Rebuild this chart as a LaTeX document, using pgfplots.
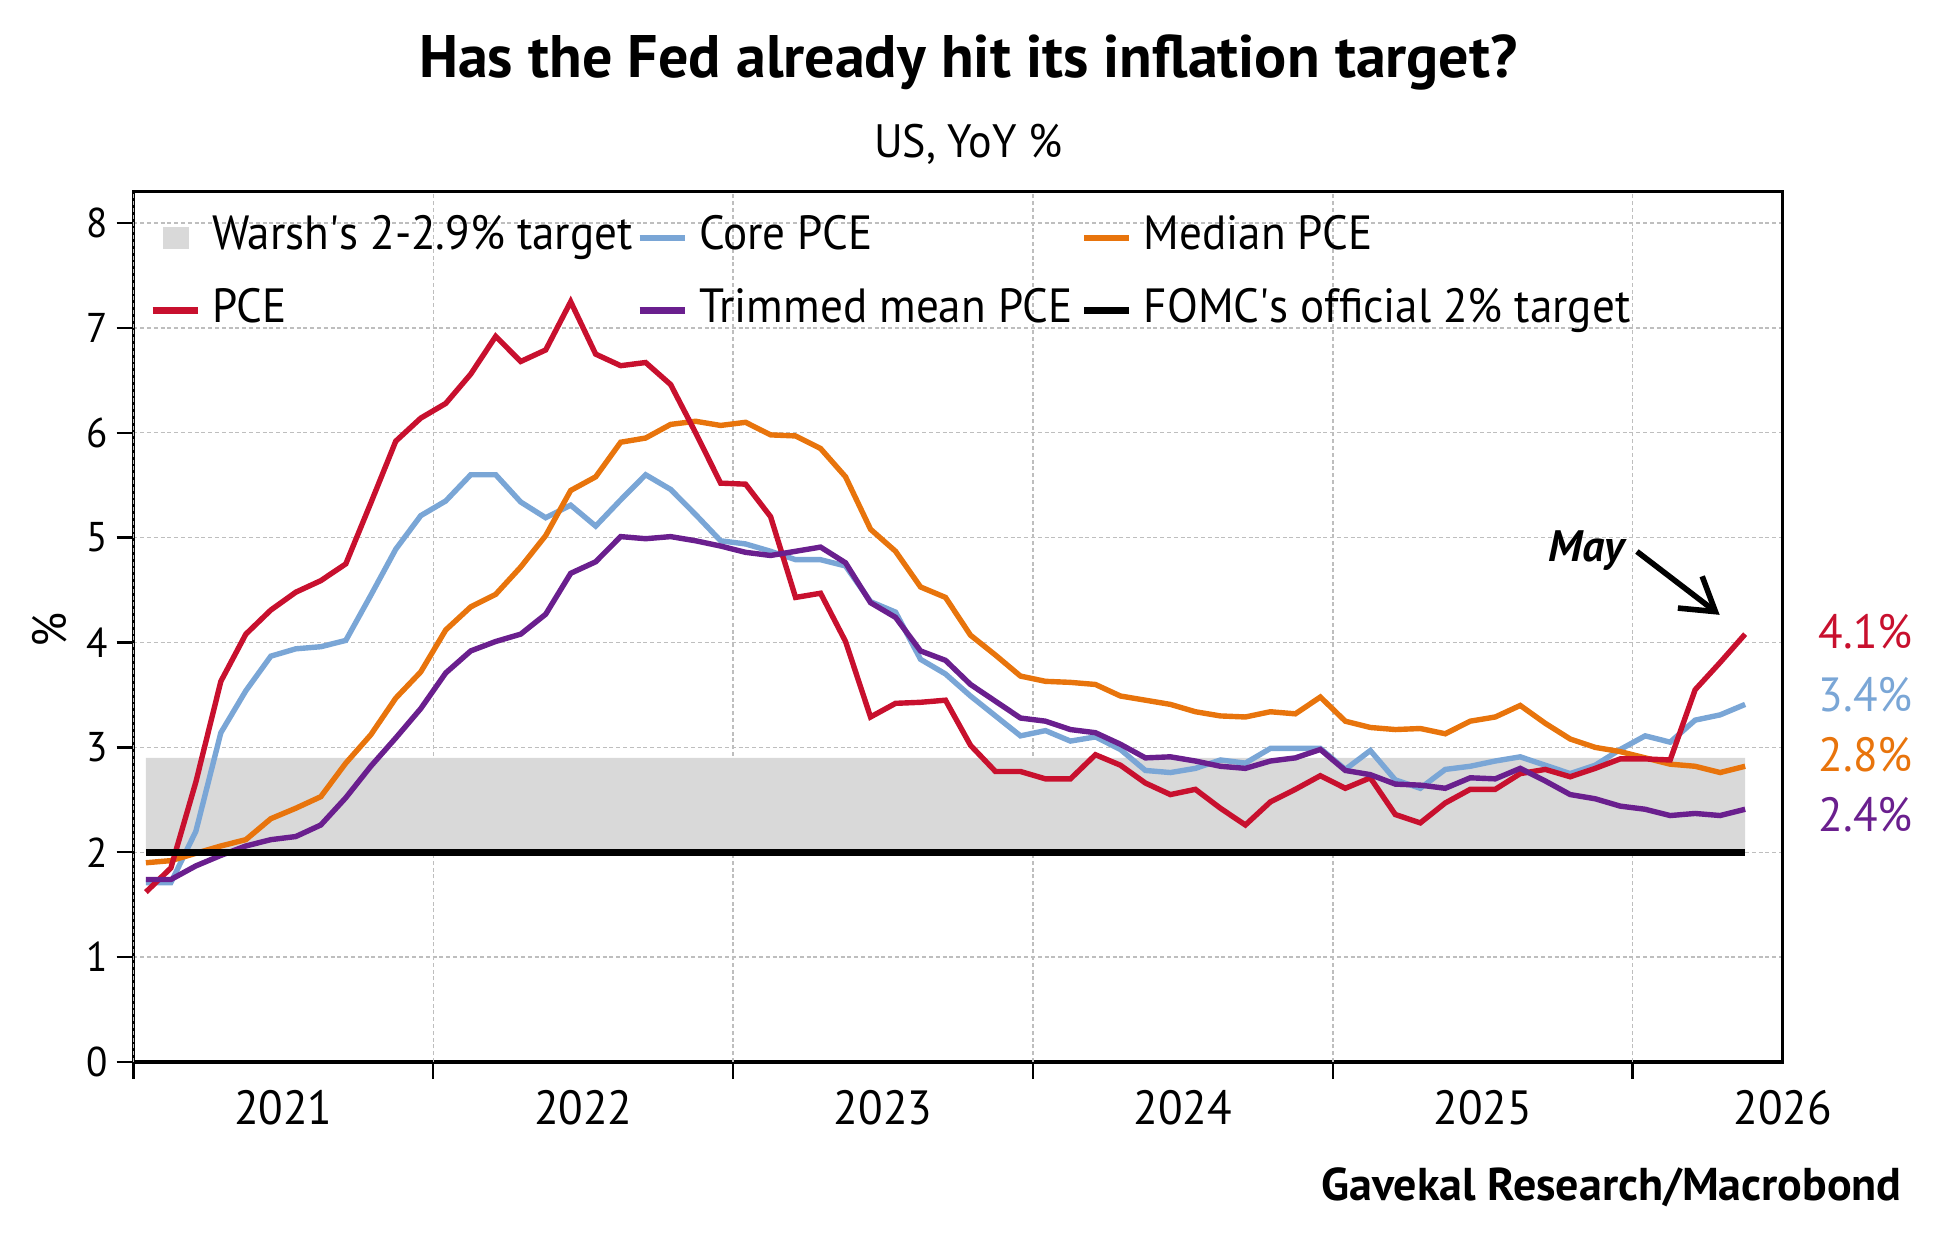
\documentclass[border=0pt]{standalone}
\usepackage{pgfplots}
\pgfplotsset{compat=1.18}
\usetikzlibrary{arrows.meta}
\usepackage{fontspec}
\setmainfont{PT Sans}[FakeStretch=0.94]
\newfontfamily\titlefont{PT Sans}

\definecolor{pcered}{RGB}{200,16,46}
\definecolor{coreblue}{RGB}{122,166,214}
\definecolor{medorange}{RGB}{232,116,12}
\definecolor{trimpurple}{RGB}{106,31,142}
\definecolor{bandgray}{RGB}{217,217,217}
\definecolor{gridgray}{RGB}{190,190,190}

% Monthly YoY rates, month 0 = Jan 2021
\pgfplotstableread{
m   pce   core  median trim
0   1.62  1.71  1.90  1.74
1   1.85  1.71  1.92  1.74
2   2.67  2.20  1.99  1.87
3   3.63  3.14  2.06  1.97
4   4.08  3.54  2.12  2.06
5   4.31  3.87  2.32  2.12
6   4.48  3.94  2.42  2.15
7   4.59  3.96  2.53  2.26
8   4.75  4.02  2.85  2.52
9   5.33  4.45  3.12  2.82
10  5.92  4.89  3.47  3.09
11  6.14  5.21  3.72  3.37
12  6.28  5.35  4.12  3.71
13  6.56  5.60  4.34  3.92
14  6.92  5.60  4.46  4.01
15  6.68  5.34  4.72  4.08
16  6.79  5.19  5.02  4.27
17  7.25  5.31  5.45  4.66
18  6.75  5.11  5.58  4.77
19  6.64  5.36  5.91  5.01
20  6.67  5.60  5.95  4.99
21  6.46  5.46  6.08  5.01
22  6.00  5.22  6.11  4.97
23  5.52  4.97  6.07  4.92
24  5.51  4.94  6.10  4.86
25  5.20  4.87  5.98  4.83
26  4.43  4.79  5.97  4.87
27  4.47  4.79  5.85  4.91
28  4.01  4.73  5.58  4.76
29  3.29  4.39  5.08  4.38
30  3.42  4.29  4.87  4.24
31  3.43  3.84  4.53  3.92
32  3.45  3.70  4.43  3.83
33  3.02  3.49  4.07  3.60
34  2.77  3.30  3.88  3.44
35  2.77  3.11  3.68  3.28
36  2.70  3.16  3.63  3.25
37  2.70  3.06  3.62  3.17
38  2.93  3.10  3.60  3.14
39  2.83  2.98  3.49  3.03
40  2.66  2.78  3.45  2.90
41  2.55  2.76  3.41  2.91
42  2.60  2.80  3.34  2.87
43  2.42  2.88  3.30  2.82
44  2.26  2.85  3.29  2.80
45  2.48  2.99  3.34  2.87
46  2.60  2.99  3.32  2.90
47  2.73  2.99  3.48  2.98
48  2.61  2.79  3.25  2.78
49  2.71  2.97  3.19  2.74
50  2.36  2.69  3.17  2.65
51  2.28  2.61  3.18  2.64
52  2.47  2.79  3.13  2.61
53  2.60  2.82  3.25  2.71
54  2.60  2.87  3.29  2.70
55  2.75  2.91  3.40  2.80
56  2.79  2.83  3.23  2.68
57  2.72  2.75  3.08  2.55
58  2.80  2.83  3.00  2.51
59  2.89  2.98  2.96  2.44
60  2.89  3.11  2.90  2.41
61  2.88  3.05  2.84  2.35
62  3.55  3.26  2.82  2.37
63  3.81  3.31  2.76  2.35
64  4.08  3.41  2.82  2.41
}\pcedata

% Legend keys with a fixed cell width
\pgfplotsset{
  legline/.style={legend image code/.code={%
    \begin{pgfinterruptboundingbox}
      \draw[##1, line width=1.7pt] (0pt,0pt) -- (11.25pt,0pt);
    \end{pgfinterruptboundingbox}
    \path[draw=none, fill=none] (0pt,0pt) -- (14.86pt,0pt);}},
}

\begin{document}
\begin{tikzpicture}
\path[use as bounding box] (0pt,0pt) rectangle (484.25pt,312.5pt);

\node[font=\titlefont\bfseries\fontsize{15}{18}\selectfont] at (242.1pt,297pt) {Has the Fed already hit its inflation target?};
\node[font=\fontsize{11.7}{14}\selectfont] at (242.1pt,276.4pt) {US, YoY \%};
\node[font=\fontsize{12}{14}\selectfont, rotate=90] at (12.35pt,155pt) {\%};
\node[font=\titlefont\bfseries\fontsize{11.5}{14}\selectfont, anchor=base east, inner sep=0pt] at (475.6pt,12.3pt) {Gavekal Research/Macrobond};

\begin{axis}[
  at={(33.35pt,47pt)}, anchor=south west,
  width=412.3pt, height=217.6pt, scale only axis,
  xmin=-0.5, xmax=65.5, ymin=0, ymax=8.3,
  axis line style={line width=0.9pt},
  tick align=outside, tick pos=left,
  major tick length=4.2pt,
  tick style={black, line width=0.6pt},
  ytick={0,1,...,8},
  xtick={5.5,17.5,29.5,41.5,53.5,65.5},
  xticklabels={2021,2022,2023,2024,2025,2026},
  xtick style={draw=none},
  x tick label style={font=\fontsize{12}{14}\selectfont, yshift=0.7pt},
  y tick label style={font=\fontsize{10.4}{12}\selectfont, inner xsep=2.05pt},
  extra x ticks={-0.5,11.5,23.5,35.5,47.5,59.5},
  extra x tick labels={},
  extra x tick style={grid=major, xtick style={draw=black}},
  ymajorgrids=true,
  grid style={gridgray, line width=0.35pt, dash pattern=on 1pt off 0.7pt},
  /pgf/number format/assume math mode=true,
  legend columns=3,
  legend style={
    at={(0.0117,0.9782)}, anchor=north west,
    draw=none, fill=none, inner sep=0pt, outer sep=0pt,
    font=\fontsize{12}{14}\selectfont,
    column sep=0pt, row sep=4.5pt,
    nodes={inner xsep=0pt, inner ysep=0pt, outer sep=0pt, text height=9.7pt, text depth=4pt, anchor=west},
  },
]

% Target band between 2% and 2.9%
\addplot[fill=bandgray, draw=none,
  legend image code/.code={%
    \begin{pgfinterruptboundingbox}
      \fill[bandgray] (2.65pt,-2.85pt) rectangle (9.15pt,2.8pt);
    \end{pgfinterruptboundingbox}
    \path[draw=none, fill=none] (0pt,0pt) -- (14.86pt,0pt);}]
  coordinates {(0,2) (64,2) (64,2.9) (0,2.9) (0,2)};
\addlegendentry{\makebox[106.9pt][l]{Warsh\textquotesingle s 2-2.9\% target}}

\addplot[coreblue, line width=1.35pt, legline] table[x=m, y=core] {\pcedata};
\addlegendentry{\makebox[96.3pt][l]{Core PCE}}

\addplot[medorange, line width=1.35pt, legline] table[x=m, y=median] {\pcedata};
\addlegendentry{Median PCE}

\addplot[pcered, line width=1.35pt, legline] table[x=m, y=pce] {\pcedata};
\addlegendentry{\makebox[106.9pt][l]{PCE}}

\addplot[trimpurple, line width=1.35pt, legline] table[x=m, y=trim] {\pcedata};
\addlegendentry{\makebox[96.3pt][l]{Trimmed mean PCE}}

\addplot[black, line width=1.8pt, legline] coordinates {(0,2) (64,2)};
\addlegendentry{FOMC\textquotesingle s official 2\% target}

\node[font=\titlefont\bfseries\itshape\fontsize{11}{13}\selectfont, anchor=base east, inner sep=0pt] at (axis cs:59.2,4.77) {May};
\draw[line width=1.4pt, -{Straight Barb[length=8pt, width=10pt, line width=1.4pt]}] (axis cs:59.67,4.868) -- (axis cs:62.98,4.264);
\end{axis}

\node[font=\fontsize{12}{14}\selectfont, text=pcered, anchor=base west, inner sep=0pt] at (454.5pt,150.4pt) {4.1\%};
\node[font=\fontsize{12}{14}\selectfont, text=coreblue, anchor=base west, inner sep=0pt] at (454.5pt,134.6pt) {3.4\%};
\node[font=\fontsize{12}{14}\selectfont, text=medorange, anchor=base west, inner sep=0pt] at (454.5pt,119.6pt) {2.8\%};
\node[font=\fontsize{12}{14}\selectfont, text=trimpurple, anchor=base west, inner sep=0pt] at (454.5pt,104.6pt) {2.4\%};
\end{tikzpicture}
\end{document}
